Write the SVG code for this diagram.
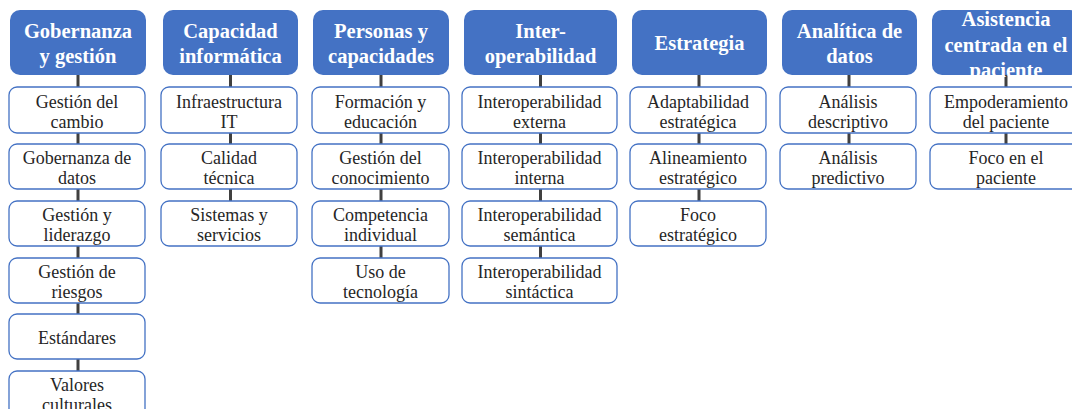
<svg xmlns="http://www.w3.org/2000/svg" width="1072" height="409" viewBox="0 0 1072 409">
<style>
.h{fill:#4472C4;}
.ht{font-family:"Liberation Serif",serif;font-weight:bold;font-size:20.5px;fill:#ffffff;text-anchor:middle;}
.b{fill:#ffffff;stroke:#4472C4;stroke-width:1.3;}
.bt{font-family:"Liberation Serif",serif;font-size:18px;fill:#262626;text-anchor:middle;}
.c{stroke:#404040;stroke-width:3;fill:none;}
</style>
<rect width="1072" height="409" fill="#ffffff"/>
<g id="connectors">
<path class="c" d="M78 75V87M78 133V144M78 189V201M78 246V258M78 303V314M78 359V371"/>
<path class="c" d="M230.5 75V87M230.5 133V144M230.5 189V201"/>
<path class="c" d="M381 75V87M381 133V144M381 189V201M381 246V258"/>
<path class="c" d="M540.5 75V87M540.5 133V144M540.5 189V201M540.5 246V258"/>
<path class="c" d="M699 75V87M699 133V144M699 189V201"/>
<path class="c" d="M849 75V87M849 133V144"/>
<path class="c" d="M1006 75V87M1006 133V144"/>
</g>
<g id="h1"><rect class="h" x="10" y="10" width="136" height="65" rx="10"/><text class="ht" x="78" y="37.5">Gobernanza</text><text class="ht" x="78" y="63">y gestión</text></g>
<g id="h2"><rect class="h" x="163" y="10" width="135" height="65" rx="10"/><text class="ht" x="230.5" y="37.5">Capacidad</text><text class="ht" x="230.5" y="63">informática</text></g>
<g id="h3"><rect class="h" x="313" y="10" width="136" height="65" rx="10"/><text class="ht" x="381" y="37.5">Personas y</text><text class="ht" x="381" y="63">capacidades</text></g>
<g id="h4"><rect class="h" x="464" y="10" width="153" height="65" rx="10"/><text class="ht" x="540.5" y="37.5">Inter-</text><text class="ht" x="540.5" y="63">operabilidad</text></g>
<g id="h5"><rect class="h" x="632" y="10" width="135" height="65" rx="10"/><text class="ht" x="699.5" y="50">Estrategia</text></g>
<g id="h6"><rect class="h" x="782" y="10" width="135" height="65" rx="10"/><text class="ht" x="849.5" y="37.5">Analítica de</text><text class="ht" x="849.5" y="63">datos</text></g>
<g id="h7"><rect class="h" x="932" y="10" width="148" height="65" rx="10"/><text class="ht" x="1006" y="26">Asistencia</text><text class="ht" x="1006" y="51.5">centrada en el</text><text class="ht" x="1006" y="77">paciente</text></g>

<g id="n1a"><rect class="b" x="9" y="87" width="136" height="46" rx="8"/><text class="bt" x="77" y="108">Gestión del</text><text class="bt" x="77" y="127.5">cambio</text></g>
<g id="n1b"><rect class="b" x="9" y="144" width="136" height="45" rx="8"/><text class="bt" x="77" y="164">Gobernanza de</text><text class="bt" x="77" y="183.5">datos</text></g>
<g id="n1c"><rect class="b" x="9" y="201" width="136" height="45" rx="8"/><text class="bt" x="77" y="221">Gestión y</text><text class="bt" x="77" y="240.5">liderazgo</text></g>
<g id="n1d"><rect class="b" x="9" y="258" width="136" height="45" rx="8"/><text class="bt" x="77" y="278">Gestión de</text><text class="bt" x="77" y="297.5">riesgos</text></g>
<g id="n1e"><rect class="b" x="9" y="314" width="136" height="45" rx="8"/><text class="bt" x="77" y="344">Estándares</text></g>
<g id="n1f"><rect class="b" x="9" y="371" width="136" height="46" rx="8"/><text class="bt" x="77" y="391">Valores</text><text class="bt" x="77" y="410.5">culturales</text></g>

<g id="n2a"><rect class="b" x="161" y="87" width="136" height="46" rx="8"/><text class="bt" x="229" y="108">Infraestructura</text><text class="bt" x="229" y="127.5">IT</text></g>
<g id="n2b"><rect class="b" x="161" y="144" width="136" height="45" rx="8"/><text class="bt" x="229" y="164">Calidad</text><text class="bt" x="229" y="183.5">técnica</text></g>
<g id="n2c"><rect class="b" x="161" y="201" width="136" height="45" rx="8"/><text class="bt" x="229" y="221">Sistemas y</text><text class="bt" x="229" y="240.5">servicios</text></g>

<g id="n3a"><rect class="b" x="312" y="87" width="137" height="46" rx="8"/><text class="bt" x="380.5" y="108">Formación y</text><text class="bt" x="380.5" y="127.5">educación</text></g>
<g id="n3b"><rect class="b" x="312" y="144" width="137" height="45" rx="8"/><text class="bt" x="380.5" y="164">Gestión del</text><text class="bt" x="380.5" y="183.5">conocimiento</text></g>
<g id="n3c"><rect class="b" x="312" y="201" width="137" height="45" rx="8"/><text class="bt" x="380.5" y="221">Competencia</text><text class="bt" x="380.5" y="240.5">individual</text></g>
<g id="n3d"><rect class="b" x="312" y="258" width="137" height="45" rx="8"/><text class="bt" x="380.5" y="278">Uso de</text><text class="bt" x="380.5" y="297.5">tecnología</text></g>

<g id="n4a"><rect class="b" x="462" y="87" width="155" height="46" rx="8"/><text class="bt" x="539.5" y="108">Interoperabilidad</text><text class="bt" x="539.5" y="127.5">externa</text></g>
<g id="n4b"><rect class="b" x="462" y="144" width="155" height="45" rx="8"/><text class="bt" x="539.5" y="164">Interoperabilidad</text><text class="bt" x="539.5" y="183.5">interna</text></g>
<g id="n4c"><rect class="b" x="462" y="201" width="155" height="45" rx="8"/><text class="bt" x="539.5" y="221">Interoperabilidad</text><text class="bt" x="539.5" y="240.5">semántica</text></g>
<g id="n4d"><rect class="b" x="462" y="258" width="155" height="45" rx="8"/><text class="bt" x="539.5" y="278">Interoperabilidad</text><text class="bt" x="539.5" y="297.5">sintáctica</text></g>

<g id="n5a"><rect class="b" x="630" y="87" width="136" height="46" rx="8"/><text class="bt" x="698" y="108">Adaptabilidad</text><text class="bt" x="698" y="127.5">estratégica</text></g>
<g id="n5b"><rect class="b" x="630" y="144" width="136" height="45" rx="8"/><text class="bt" x="698" y="164">Alineamiento</text><text class="bt" x="698" y="183.5">estratégico</text></g>
<g id="n5c"><rect class="b" x="630" y="201" width="136" height="45" rx="8"/><text class="bt" x="698" y="221">Foco</text><text class="bt" x="698" y="240.5">estratégico</text></g>

<g id="n6a"><rect class="b" x="780" y="87" width="136" height="46" rx="8"/><text class="bt" x="848" y="108">Análisis</text><text class="bt" x="848" y="127.5">descriptivo</text></g>
<g id="n6b"><rect class="b" x="780" y="144" width="136" height="45" rx="8"/><text class="bt" x="848" y="164">Análisis</text><text class="bt" x="848" y="183.5">predictivo</text></g>

<g id="n7a"><rect class="b" x="930" y="87" width="150" height="46" rx="8"/><text class="bt" x="1006" y="108">Empoderamiento</text><text class="bt" x="1006" y="127.5">del paciente</text></g>
<g id="n7b"><rect class="b" x="930" y="144" width="150" height="45" rx="8"/><text class="bt" x="1006" y="164">Foco en el</text><text class="bt" x="1006" y="183.5">paciente</text></g>
</svg>
